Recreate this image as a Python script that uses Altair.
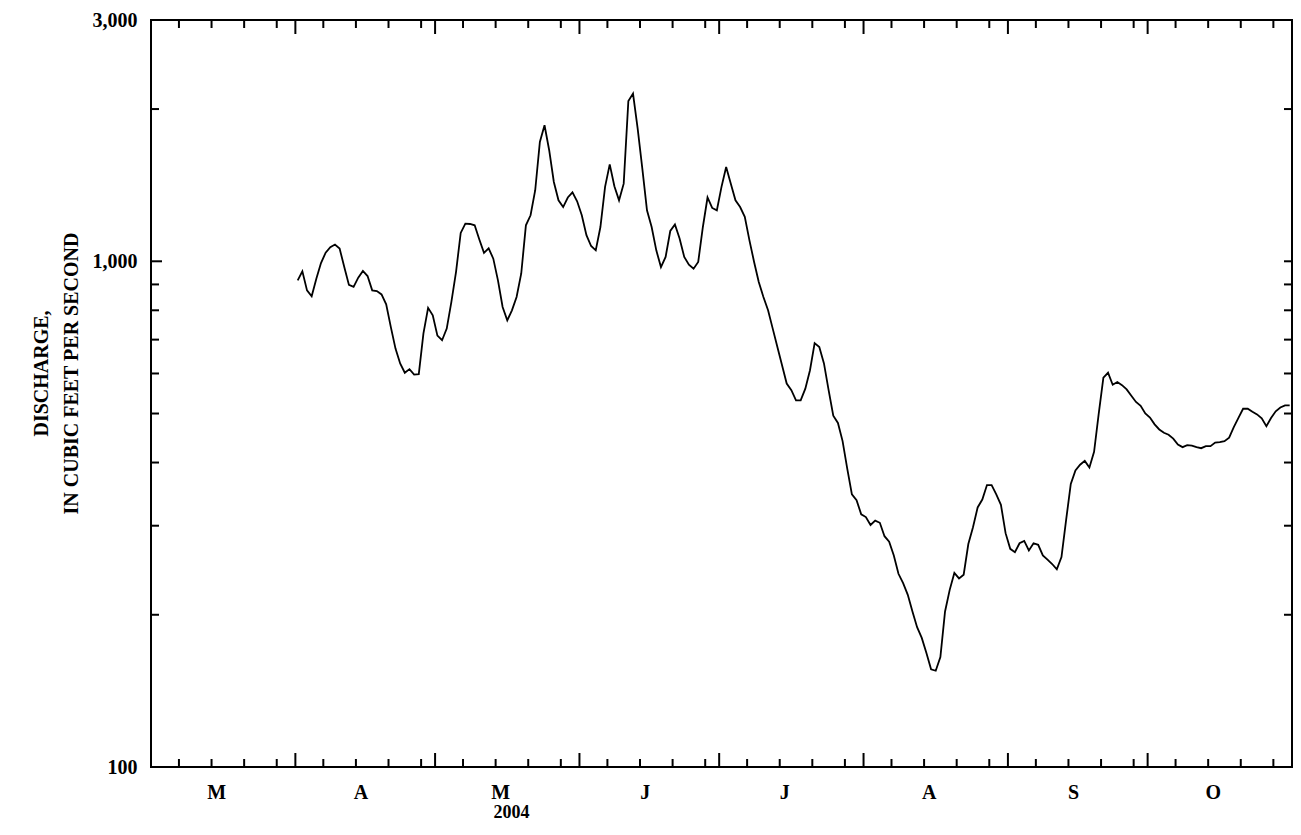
import json
import altair as alt
import pandas as pd

# ---------------- data ----------------
start_date = "2004-04-01"   # first daily value
discharge = [
    # April
    917, 955, 876, 853, 924, 992, 1040, 1066, 1079, 1060,
    974, 898, 890, 928, 957, 935, 876, 873, 860, 822,
    741, 672, 628, 602, 612, 597, 598, 720, 809, 782,
    # May
    713, 698, 736, 831, 953, 1138, 1187, 1185, 1178, 1104,
    1039, 1061, 1012, 917, 812, 764, 800, 850, 946, 1178,
    1233, 1382, 1722, 1858, 1658, 1435, 1320, 1280, 1337, 1369, 1314,
    # June
    1233, 1126, 1072, 1051, 1169, 1403, 1555, 1407, 1320, 1424,
    2075, 2146, 1830, 1525, 1261, 1169, 1051, 974, 1020, 1148,
    1182, 1109, 1020, 985, 967, 997, 1169, 1337, 1275, 1261,
    # July
    1403, 1536, 1424, 1320, 1280, 1224, 1100, 997, 910, 850,
    800, 736, 677, 623, 573, 556, 531, 531, 560, 609,
    689, 677, 628, 556, 495, 479, 441, 389, 346, 337, 316,
    # August
    312, 301, 307, 304, 286, 279, 262, 241, 231, 219,
    203, 189, 180, 168, 156, 155, 165, 203, 224, 242,
    236, 240, 276, 298, 326, 338, 361, 361, 346, 330, 290,
    # September
    270, 266, 277, 280, 268, 277, 275, 262, 257, 252,
    246, 260, 308, 363, 386, 396, 403, 391, 420, 500,
    589, 602, 570, 577, 569, 558, 542, 527, 518, 500,
    # October
    491, 476, 465, 458, 454, 446, 434, 429, 433, 432,
    429, 427, 431, 431, 438, 439, 441, 448, 470, 490,
    511, 511, 504, 498, 489, 472, 490, 505, 514, 519, 519,
]

axis_start = "2004-03-01"
axis_end = "2004-11-01"
month_letters = ["M", "A", "M", "J", "J", "A", "S", "O"]
label_day_of_month = 15
minor_tick_days = [7, 14, 21, 28]
y_label_values = [100, 1000, 3000]
y_major_ticks = [1000]
y_minor_ticks = [200, 300, 400, 500, 600, 700, 800, 900, 2000]
x_title = "2004"
y_title = ["DISCHARGE,", "IN CUBIC FEET PER SECOND"]

# ---------------- layout ----------------
W, H = 1141, 747
FONT = "Liberation Serif"
FS = 20

t0 = pd.Timestamp(axis_start)
t1 = pd.Timestamp(axis_end)
total_days = (t1 - t0).days
dates = pd.date_range(start_date, periods=len(discharge), freq="D")
df = pd.DataFrame({"day": [(d - t0).days + 0.5 for d in dates], "q": discharge})

month_starts = pd.date_range(t0, t1, freq="MS")
major_x = [(d - t0).days for d in month_starts[1:-1]]
minor_x = [(d - t0).days + dd - 1 for d in month_starts[:-1] for dd in minor_tick_days]
label_x = [(d - t0).days + label_day_of_month - 1 for d in month_starts[:-1]]

label_expr = "{}[indexof({}, datum.value)]".format(json.dumps(month_letters), json.dumps(label_x))

xscale = alt.Scale(domain=[0, total_days], nice=False, zero=False)
yscale = alt.Scale(type="log", domain=[100, 3000], nice=False)

x_axis = alt.Axis(
    values=label_x, labelExpr=label_expr, ticks=False, domain=False, grid=False,
    labelFont=FONT, labelFontSize=FS, labelFontWeight="bold", labelColor="black",
    labelPadding=15, labelFlush=False, labelOverlap=False,
    title=x_title, titleFont=FONT, titleFontSize=18, titleFontWeight="bold",
    titleColor="black", titleX=360, titleY=50, titleAlign="center",
    titleBaseline="alphabetic",
)
y_axis = alt.Axis(
    values=y_label_values, format=",", ticks=False, domain=False, grid=False,
    labelFont=FONT, labelFontSize=FS, labelFontWeight="bold", labelColor="black",
    labelPadding=14, labelFlush=False, labelOverlap=False,
    title=y_title, titleFont=FONT, titleFontSize=FS, titleFontWeight="bold",
    titleColor="black", titleAngle=270, titleX=-104, titleY=353,
    titleAlign="center", titleBaseline="alphabetic", titleLineHeight=30,
)

line = alt.Chart(df).mark_line(color="black", strokeWidth=1.8).encode(
    x=alt.X("day:Q", scale=xscale, axis=x_axis, title=x_title),
    y=alt.Y("q:Q", scale=yscale, axis=y_axis, title=y_title),
)


def xticks(vals, y0, y1):
    return alt.Chart(pd.DataFrame({"day": vals})).mark_rule(color="black", strokeWidth=2).encode(
        x=alt.X("day:Q", scale=xscale, axis=x_axis, title=x_title),
        y=alt.value(y0),
        y2=alt.value(y1),
    )


def yticks(vals, x0, x1):
    return alt.Chart(pd.DataFrame({"q": vals})).mark_rule(color="black", strokeWidth=2).encode(
        y=alt.Y("q:Q", scale=yscale, axis=y_axis, title=y_title),
        x=alt.value(x0),
        x2=alt.value(x1),
    )


layers = [
    line,
    xticks(major_x, H, H - 14),
    xticks(minor_x, H, H - 8),
    xticks(major_x, 0, 14),
    xticks(minor_x, 0, 8),
    yticks(y_major_ticks, 0, 11),
    yticks(y_minor_ticks, 0, 8),
    yticks(y_major_ticks + y_minor_ticks, W, W - 8),
]

chart = alt.layer(*layers).properties(
    width=W,
    height=H,
    autosize=alt.AutoSizeParams(type="none"),
    padding={"left": 143, "top": 12, "right": 1, "bottom": 55},
).configure_view(stroke="black", strokeWidth=2)

chart.save("out.html", embed_options={"renderer": "svg", "actions": False})
